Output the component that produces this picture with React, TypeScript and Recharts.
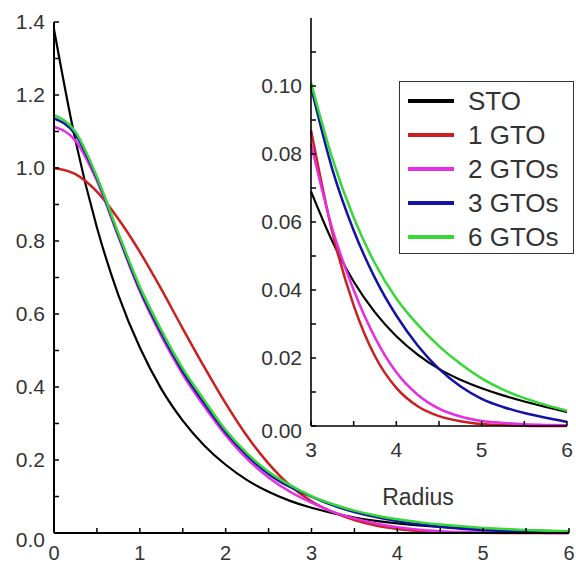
import { LineChart, Line, XAxis, YAxis, Legend } from 'recharts';

// radius grid (bohr) and curve values
const RADIUS = [0, 0.25, 0.5, 0.75, 1, 1.25, 1.5, 1.75, 2, 2.25, 2.5, 2.75, 3, 3.25, 3.5, 3.75, 4, 4.25, 4.5, 4.75, 5, 5.25, 5.5, 5.75, 6];
const STO = [1.38, 1.075, 0.837, 0.652, 0.508, 0.395, 0.308, 0.24, 0.187, 0.145, 0.113, 0.088, 0.069, 0.0543, 0.0425, 0.0334, 0.0264, 0.021, 0.0168, 0.0136, 0.0111, 0.009, 0.0072, 0.0056, 0.0041];
const GTO1 = [1.0, 0.983, 0.935, 0.86, 0.77, 0.668, 0.56, 0.455, 0.355, 0.265, 0.19, 0.13, 0.087, 0.057, 0.0355, 0.0205, 0.0112, 0.0058, 0.0029, 0.0014, 0.0006, 0.0003, 0.0001, 0, 0];
const GTO2 = [1.113, 1.075, 0.965, 0.812, 0.662, 0.54, 0.435, 0.347, 0.268, 0.203, 0.152, 0.113, 0.083, 0.058, 0.04, 0.026, 0.0158, 0.0092, 0.0051, 0.0028, 0.0015, 0.0009, 0.0005, 0.0003, 0.0002];
const GTO3 = [1.136, 1.092, 0.972, 0.816, 0.668, 0.548, 0.443, 0.356, 0.276, 0.212, 0.162, 0.126, 0.0997, 0.0755, 0.0575, 0.0435, 0.0325, 0.0237, 0.0168, 0.0117, 0.008, 0.0056, 0.0038, 0.0024, 0.0012];
const GTO6 = [1.145, 1.099, 0.976, 0.821, 0.675, 0.556, 0.451, 0.364, 0.282, 0.218, 0.168, 0.131, 0.101, 0.0787, 0.0613, 0.0478, 0.0375, 0.0298, 0.0235, 0.0183, 0.014, 0.0107, 0.0082, 0.0062, 0.0045];

const MAIN_X_TICKS = [0, 0.5, 1, 1.5, 2, 2.5, 3, 3.5, 4, 4.5, 5, 5.5, 6];
const MAIN_Y_TICKS = [0, 0.1, 0.2, 0.3, 0.4, 0.5, 0.6, 0.7, 0.8, 0.9, 1.0, 1.1, 1.2, 1.3, 1.4];
const INSET_X_TICKS = [3, 3.5, 4, 4.5, 5, 5.5, 6];
const INSET_Y_TICKS = [0, 0.01, 0.02, 0.03, 0.04, 0.05, 0.06, 0.07, 0.08, 0.09, 0.1, 0.11];

const SERIES = [
  { key: 'sto', name: 'STO', color: '#000000', width: 2.2, values: STO },
  { key: 'g1', name: '1 GTO', color: '#cc1f1f', width: 2.5, values: GTO1 },
  { key: 'g2', name: '2 GTOs', color: '#e62ee6', width: 2.5, values: GTO2 },
  { key: 'g3', name: '3 GTOs', color: '#1212a6', width: 2.5, values: GTO3 },
  { key: 'g6', name: '6 GTOs', color: '#35d835', width: 2.5, values: GTO6 },
];

const mainData = RADIUS.map((r, i) => {
  const row: any = { r };
  SERIES.forEach((s) => (row[s.key] = s.values[i]));
  return row;
});
const insetData = mainData.filter((d) => d.r >= 3);

const FONT = '"Liberation Sans", Arial, Helvetica, sans-serif';
const TEXT = '#333333';

function XTick({ x, y, payload, fontSize, dy }: any) {
  const v = payload.value;
  const major = Math.abs(v - Math.round(v)) < 1e-6;
  return (
    <g>
      <line x1={x} x2={x} y1={y} y2={y - 5} stroke="#000" strokeWidth={1.5} />
      {major && (
        <text x={x} y={y + dy} textAnchor="middle" fontSize={fontSize} fontFamily={FONT} fill={TEXT}>
          {v}
        </text>
      )}
    </g>
  );
}

function YTick({ x, y, payload, fontSize, step, digits, zeroShift }: any) {
  const v = payload.value;
  const major = Math.abs(v / step - Math.round(v / step)) < 1e-6;
  return (
    <g>
      <line x1={x} x2={x + 5} y1={y} y2={y} stroke="#000" strokeWidth={1.5} />
      {major && (
        <text
          x={x - 9}
          y={y + 7 + (v === 0 ? zeroShift : 0)}
          textAnchor="end"
          fontSize={fontSize}
          fontFamily={FONT}
          fill={TEXT}
        >
          {v.toFixed(digits)}
        </text>
      )}
    </g>
  );
}

function LegendBox() {
  return (
    <div
      style={{
        width: 175,
        height: 173,
        boxSizing: 'border-box',
        border: '1.5px solid #333',
        background: '#fff',
        position: 'relative',
        fontFamily: FONT,
      }}
    >
      {SERIES.map((s, i) => (
        <div key={s.key} style={{ position: 'absolute', left: 0, top: 2 + i * 34, height: 34, width: 175 }}>
          <div
            style={{
              position: 'absolute',
              left: 8,
              top: 15,
              width: 46,
              height: 4,
              background: s.color,
            }}
          />
          <div
            style={{
              position: 'absolute',
              left: 68,
              top: 0,
              lineHeight: '34px',
              fontSize: 26,
              color: TEXT,
              whiteSpace: 'nowrap',
            }}
          >
            {s.name}
          </div>
        </div>
      ))}
    </div>
  );
}

export default function App() {
  return (
    <div style={{ position: 'absolute', left: 0, top: 0, width: 576, height: 566, background: '#fff' }}>
      <div style={{ position: 'absolute', left: 0, top: 0 }}>
        <LineChart width={576} height={566} data={mainData} margin={{ top: 22, right: 7, bottom: 0, left: 0 }}>
          <XAxis
            dataKey="r"
            type="number"
            domain={[0, 6]}
            ticks={MAIN_X_TICKS}
            interval={0}
            height={33}
            tickSize={0}
            tickMargin={0}
            tickLine={false}
            axisLine={{ stroke: '#000', strokeWidth: 2 }}
            tick={(p: any) => <XTick {...p} fontSize={20} dy={27} />}
          />
          <YAxis
            type="number"
            domain={[0, 1.4]}
            ticks={MAIN_Y_TICKS}
            interval={0}
            width={54}
            tickSize={0}
            tickMargin={0}
            tickLine={false}
            axisLine={{ stroke: '#000', strokeWidth: 2 }}
            tick={(p: any) => <YTick {...p} fontSize={21} step={0.2} digits={1} zeroShift={7} />}
          />
          {SERIES.map((s) => (
            <Line
              key={s.key}
              dataKey={s.key}
              type="monotone"
              stroke={s.color}
              strokeWidth={s.width}
              dot={false}
              isAnimationActive={false}
            />
          ))}
        </LineChart>
      </div>
      <div style={{ position: 'absolute', left: 251, top: 0 }}>
        <LineChart width={325} height={466} data={insetData} margin={{ top: 18, right: 9, bottom: 0, left: 0 }}>
          <XAxis
            dataKey="r"
            type="number"
            domain={[3, 6]}
            ticks={INSET_X_TICKS}
            interval={0}
            height={40}
            tickSize={0}
            tickMargin={0}
            tickLine={false}
            axisLine={{ stroke: '#000', strokeWidth: 1.6 }}
            tick={(p: any) => <XTick {...p} fontSize={21} dy={31} />}
          />
          <YAxis
            type="number"
            domain={[0, 0.12]}
            ticks={INSET_Y_TICKS}
            interval={0}
            width={60}
            tickSize={0}
            tickMargin={0}
            tickLine={false}
            axisLine={{ stroke: '#000', strokeWidth: 1.6 }}
            tick={(p: any) => <YTick {...p} fontSize={21} step={0.02} digits={2} zeroShift={5} />}
          />
          {SERIES.map((s) => (
            <Line
              key={s.key}
              dataKey={s.key}
              name={s.name}
              type="monotone"
              stroke={s.color}
              strokeWidth={s.width}
              dot={false}
              isAnimationActive={false}
            />
          ))}
          <Legend
            layout="vertical"
            align="center"
            verticalAlign="middle"
            content={() => <LegendBox />}
            wrapperStyle={{ position: 'absolute', left: 148, top: 81, width: 175, height: 173 }}
          />
        </LineChart>
      </div>
      <div
        style={{
          position: 'absolute',
          left: 418,
          top: 497,
          transform: 'translate(-50%, -50%)',
          fontFamily: FONT,
          fontSize: 23,
          color: TEXT,
          whiteSpace: 'nowrap',
        }}
      >
        Radius
      </div>
    </div>
  );
}
